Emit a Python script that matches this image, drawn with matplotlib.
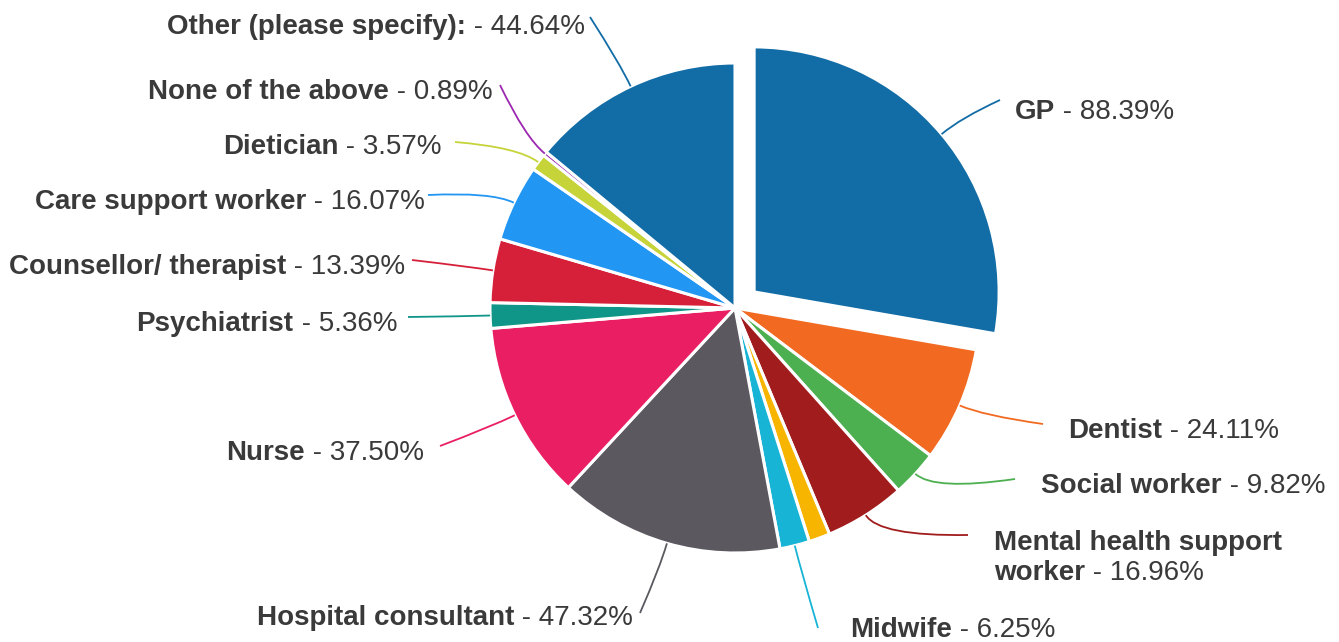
import matplotlib
matplotlib.use('Agg')
import matplotlib.pyplot as plt
import numpy as np
from matplotlib.path import Path
from matplotlib.patches import PathPatch
from matplotlib.offsetbox import TextArea, HPacker, VPacker, AnnotationBbox

# survey answers, % of respondents, clockwise from 12 o'clock
categories = ['GP', 'Dentist', 'Social worker', 'Mental health support worker',
              'Unlabelled', 'Midwife', 'Hospital consultant', 'Nurse',
              'Psychiatrist', 'Counsellor/ therapist', 'Care support worker',
              'Dietician', 'None of the above', 'Other (please specify):']
percentages = [88.39, 24.11, 9.82, 16.96, 4.46, 6.25, 47.32, 37.50,
               5.36, 13.39, 16.07, 3.57, 0.89, 44.64]
colors = ['#126ca6', '#f26a21', '#4caf50', '#a11c1c', '#f7b500', '#17b4d6',
          '#5c5860', '#e91e63', '#0f9688', '#d6203a', '#2196f3', '#c6d43a',
          '#9c27b0', '#126ca6']

W, H = 1339, 642
CENTER = (735, 308)
RADIUS = 245
TEXT_COLOR = '#3a3a3a'
FONT = 'Liberation Sans'
FS = 20

# label placement: (text x, text y, alignment, connector end near the text)
label_layout = {
    'GP': (1015, 112, 'left', (1000, 100)),
    'Dentist': (1068, 431, 'left', (1043, 424)),
    'Social worker': (1041, 486, 'left', (1015, 479)),
    'Mental health support worker': (994, 558, 'left', (968, 535)),
    'Midwife': (850, 630, 'left', (818, 628)),
    'Hospital consultant': (633, 618, 'right', (640, 613)),
    'Nurse': (424, 453, 'right', (440, 446)),
    'Psychiatrist': (397, 324, 'right', (408, 317)),
    'Counsellor/ therapist': (405, 267, 'right', (412, 260)),
    'Care support worker': (425, 202, 'right', (428, 195)),
    'Dietician': (442, 147, 'right', (455, 142)),
    'None of the above': (493, 92, 'right', (500, 85)),
    'Other (please specify):': (585, 27, 'right', (590, 17)),
}

fig = plt.figure(figsize=(W / 100, H / 100), dpi=100)
ax = fig.add_axes([0, 0, 1, 1])

explode = [25 if c == 'GP' else 0 for c in categories]
wedges, _ = ax.pie(percentages, colors=colors, center=CENTER, radius=RADIUS,
                   startangle=-90, counterclock=True, explode=explode,
                   wedgeprops=dict(edgecolor='white', linewidth=2.2))
ax.set_xlim(0, W)
ax.set_ylim(H, 0)
ax.set_aspect('auto')
ax.axis('off')


def make_label(name, value):
    bold = dict(fontsize=FS, fontweight='bold', color=TEXT_COLOR, family=FONT)
    norm = dict(fontsize=FS, color=TEXT_COLOR, family=FONT)
    tail = ' - %.2f%%' % value
    if name == 'Mental health support worker':
        line1 = TextArea('Mental health support', textprops=bold)
        line2 = HPacker(children=[TextArea('worker', textprops=bold),
                                  TextArea(tail, textprops=norm)],
                        align='baseline', pad=0, sep=0)
        return VPacker(children=[line1, line2], align='left', pad=0, sep=3)
    return HPacker(children=[TextArea(name, textprops=bold),
                             TextArea(tail, textprops=norm)],
                   align='baseline', pad=0, sep=0)


for w, name, value, col in zip(wedges, categories, percentages, colors):
    if name not in label_layout:
        continue
    tx, ty, ha, hook = label_layout[name]
    mid = np.deg2rad((w.theta1 + w.theta2) / 2)
    cx, cy = w.center
    edge = (cx + w.r * np.cos(mid), cy + w.r * np.sin(mid))
    bend = (cx + (w.r + 25) * np.cos(mid), cy + (w.r + 25) * np.sin(mid))
    path = Path([hook, bend, edge], [Path.MOVETO, Path.CURVE3, Path.CURVE3])
    ax.add_patch(PathPatch(path, facecolor='none', edgecolor=col, lw=1.3))

    box = make_label(name, value)
    align = (0, 0.5) if ha == 'left' else (1, 0.5)
    ab = AnnotationBbox(box, (tx, ty), xycoords='data', box_alignment=align,
                        frameon=False, pad=0)
    ax.add_artist(ab)

fig.savefig('out.png', dpi=100, facecolor='white')
